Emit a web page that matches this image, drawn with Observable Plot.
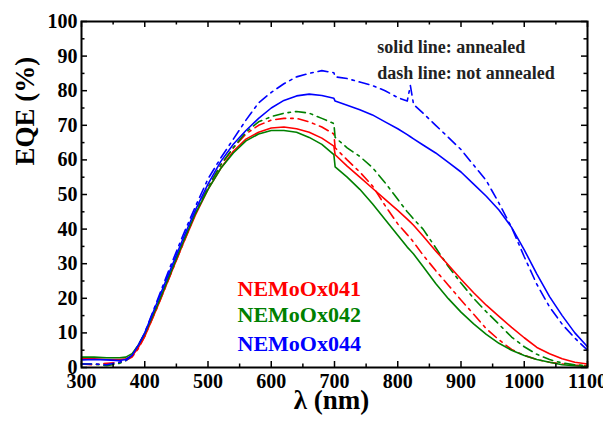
<!DOCTYPE html>
<html>
<head>
<meta charset="utf-8">
<script src="https://cdn.jsdelivr.net/npm/d3@7"></script>
<script src="https://cdn.jsdelivr.net/npm/@observablehq/plot@0.6"></script>
<style>
  html, body { margin: 0; padding: 0; background: #fff; }
</style>
</head>
<body>
<div id="chart"></div>
<script>
// wavelength grid (nm)
const wavelength = [300, 320, 340, 360, 370, 380, 390, 400, 420, 440, 460, 480, 500, 520, 540, 560, 580, 600, 620, 640, 660, 680, 699, 701, 720, 740, 760, 780, 800, 815, 820, 825, 840, 860, 880, 900, 920, 940, 960, 980, 1000, 1020, 1040, 1060, 1080, 1100];

// EQE (%) – NEMoOx041
const eqe041Annealed = [2.5, 2.5, 2.3, 2.3, 2.5, 3.3, 5.8, 9, 17.5, 26.5, 35.5, 44, 51.5, 57.5, 62.5, 66, 68, 69.2, 69.5, 69, 68, 66.3, 64, 61.5, 58.2, 55, 51.8, 48.6, 45.4, 42.9, 42, 41.1, 38, 33.7, 29.6, 25.5, 21.6, 18, 14.8, 11.6, 8.6, 5.8, 4, 2.5, 1.5, 1];
const eqe041NotAnnealed = [1, 0.8, 1.2, 1.5, 2, 3, 5.5, 9, 17.5, 26.5, 35.5, 44.5, 52, 58.5, 63.5, 67.5, 70, 71.5, 72, 72, 71, 69.5, 67.5, 63.5, 60, 56.5, 52.5, 46.8, 41.5, 38.4, 37.4, 36.2, 32.5, 28, 23.8, 19.5, 15.4, 11.2, 8, 5.2, 3.5, 2.3, 1.5, 1, 0.7, 0.5];
// EQE (%) – NEMoOx042
const eqe042Annealed = [3, 3, 2.8, 2.8, 3, 4, 6.5, 9.8, 18, 27, 36, 44.5, 51.5, 57.5, 62, 65.5, 67.5, 68.5, 68.5, 68, 66.5, 64.5, 61.5, 58, 55, 51.5, 47.3, 42.8, 38.2, 34.8, 33.8, 32.8, 29.2, 24.3, 19.9, 16, 12.6, 9.6, 7, 5, 3.5, 2.3, 1.5, 0.8, 0.5, 0.3];
const eqe042NotAnnealed = [1, 1, 0.5, 1.2, 2, 3.5, 6, 9.5, 18, 27, 36, 44.5, 52, 58.5, 63.5, 68, 71, 72.5, 73.5, 74, 73.5, 72, 70.5, 66.5, 63.5, 61, 57.8, 53.4, 48.6, 45, 44, 42.9, 40, 34.6, 29.2, 24.4, 20, 16.1, 12.5, 8.8, 6, 3.8, 2.3, 1.3, 0.8, 0.5];
// EQE (%) – NEMoOx044
const eqe044Annealed = [2.2, 2.3, 2.2, 2, 2.3, 3.5, 6.5, 10, 19, 28, 37, 45.5, 53, 59.5, 64.5, 68.5, 72, 75, 77.2, 78.5, 79, 78.6, 77.8, 77, 75.8, 74.5, 73, 71, 69, 67.3, 66.7, 66.1, 64.3, 62, 59.3, 56.5, 53, 49.5, 45.5, 40.5, 34, 27, 20.5, 15, 10, 6];
const eqe044NotAnnealed = [1, 1, 0.8, 1.5, 2, 3.5, 6.5, 10, 19.5, 29, 38, 46.5, 54.5, 60.5, 66, 71.5, 76.5, 79.5, 82, 84, 85, 85.8, 85.2, 84, 83.5, 82.5, 81.5, 80, 78, 77, 81.5, 76, 73.5, 70, 66.5, 63, 58.5, 54, 47.5, 40.5, 32, 24, 17.5, 12.5, 8.5, 5];

// axis ticks
const xMajorTicks = [300, 400, 500, 600, 700, 800, 900, 1000, 1100];
const xMinorTicks = [350, 450, 550, 650, 750, 850, 950, 1050];
const yMajorTicks = [0, 10, 20, 30, 40, 50, 60, 70, 80, 90, 100];
const yMinorTicks = [5, 15, 25, 35, 45, 55, 65, 75, 85, 95];

// labels
const seriesNames = ["NEMoOx041", "NEMoOx042", "NEMoOx044"];
const seriesColors = ["#ff0000", "#008000", "#0000ff"];
const noteLines = ["solid line: annealed", "dash line: not annealed"];
const xLabel = "λ (nm)";
const yLabel = "EQE (%)";

const FONT = "Liberation Serif";

const seriesData = [
  {name: seriesNames[0], color: seriesColors[0], annealed: eqe041Annealed, not: eqe041NotAnnealed},
  {name: seriesNames[1], color: seriesColors[1], annealed: eqe042Annealed, not: eqe042NotAnnealed},
  {name: seriesNames[2], color: seriesColors[2], annealed: eqe044Annealed, not: eqe044NotAnnealed}
];
const rows = (vals) => wavelength.map((w, i) => ({w, v: vals[i]}));

const W = 603, H = 423;
const mL = 81, mR = 16, mT = 21, mB = 56;
const fw = W - mL - mR, fh = H - mT - mB;
const majorLen = 6, minorLen = 3.5;

const lineMarks = [];
for (const s of seriesData) {
  lineMarks.push(Plot.line(rows(s.not), {x: "w", y: "v", stroke: s.color, strokeWidth: 1.6, strokeDasharray: "10,5,2.5,5"}));
}
for (const s of seriesData) {
  lineMarks.push(Plot.line(rows(s.annealed), {x: "w", y: "v", stroke: s.color, strokeWidth: 1.6}));
}

const tickMarks = [
  Plot.ruleX(xMajorTicks, {insetTop: fh - majorLen, strokeWidth: 1.5}),
  Plot.ruleX(xMajorTicks, {insetBottom: fh - majorLen, strokeWidth: 1.5}),
  Plot.ruleX(xMinorTicks, {insetTop: fh - minorLen, strokeWidth: 1.5}),
  Plot.ruleX(xMinorTicks, {insetBottom: fh - minorLen, strokeWidth: 1.5}),
  Plot.ruleY(yMajorTicks, {insetRight: fw - majorLen, strokeWidth: 1.5}),
  Plot.ruleY(yMajorTicks, {insetLeft: fw - majorLen, strokeWidth: 1.5}),
  Plot.ruleY(yMinorTicks, {insetRight: fw - minorLen, strokeWidth: 1.5}),
  Plot.ruleY(yMinorTicks, {insetLeft: fw - minorLen, strokeWidth: 1.5})
];

const legendDy = [258.7, 285.3, 313.7];
const legendMarks = seriesData.map((s, i) => Plot.text([s.name], {
  text: d => d, frameAnchor: "top-left", textAnchor: "start", dx: 156, dy: legendDy[i],
  fill: s.color, fontSize: 22, fontWeight: "bold", fontFamily: FONT
}));
const noteDy = [19.2, 44.9];
const noteMarks = noteLines.map((t, i) => Plot.text([t], {
  text: d => d, frameAnchor: "top-left", textAnchor: "start", dx: 295.7, dy: noteDy[i],
  fill: "#222", fontSize: 18, fontWeight: "bold", fontFamily: FONT
}));

const plot = Plot.plot({
  width: W, height: H,
  marginLeft: mL, marginRight: mR, marginTop: mT, marginBottom: mB,
  x: {domain: [300, 1100]},
  y: {domain: [0, 100]},
  marks: [
    ...lineMarks,
    ...tickMarks,
    Plot.frame({stroke: "#000", strokeWidth: 2}),
    Plot.axisX(xMajorTicks, {tickSize: 0, tickPadding: 6, fontSize: 20, fontWeight: "bold", fontFamily: FONT, label: null, tickFormat: d => String(d)}),
    Plot.axisY(yMajorTicks, {tickSize: 0, tickPadding: 4, fontSize: 20, fontWeight: "bold", fontFamily: FONT, label: null, tickFormat: d => String(d)}),
    Plot.text([xLabel], {text: d => d, frameAnchor: "bottom", dx: -3, dy: 41, fontSize: 27, fontWeight: "bold", fontFamily: FONT, fill: "#000"}),
    Plot.text([yLabel], {text: d => d, frameAnchor: "left", rotate: -90, dx: -56, dy: -29, fontSize: 27, fontWeight: "bold", fontFamily: FONT, fill: "#000"}),
    ...legendMarks,
    ...noteMarks
  ]
});
plot.setAttribute("font-family", FONT);
document.getElementById("chart").appendChild(plot);
</script>
</body>
</html>
